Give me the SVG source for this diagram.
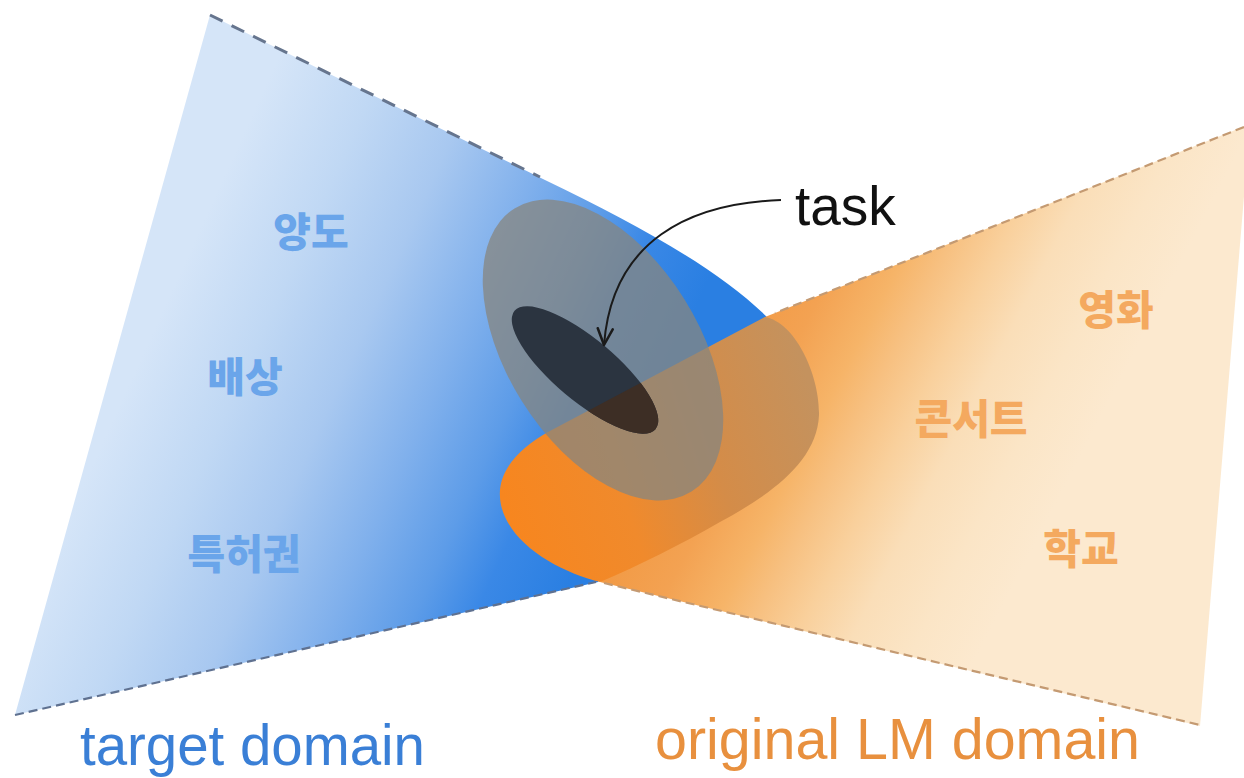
<svg xmlns="http://www.w3.org/2000/svg" width="1244" height="778" viewBox="0 0 1244 778">
  <defs>
    <linearGradient id="gBlue" gradientUnits="userSpaceOnUse" x1="252" y1="115" x2="692" y2="316">
      <stop offset="0" stop-color="#d5e5f8"/>
      <stop offset="0.207" stop-color="#c0d8f4"/>
      <stop offset="0.395" stop-color="#a8c8f0"/>
      <stop offset="0.584" stop-color="#80b0ec"/>
      <stop offset="0.735" stop-color="#5d9ce8"/>
      <stop offset="0.849" stop-color="#3a88e6"/>
      <stop offset="1" stop-color="#2a7fe2"/>
    </linearGradient>
    <linearGradient id="gOrange" gradientUnits="userSpaceOnUse" x1="710" y1="369" x2="1038" y2="539">
      <stop offset="0" stop-color="#f29a45"/>
      <stop offset="0.173" stop-color="#f3a252"/>
      <stop offset="0.324" stop-color="#f6b468"/>
      <stop offset="0.419" stop-color="#f7c080"/>
      <stop offset="0.541" stop-color="#f9d09c"/>
      <stop offset="0.676" stop-color="#fadeb8"/>
      <stop offset="0.838" stop-color="#fbe5c6"/>
      <stop offset="1" stop-color="#fce9cf"/>
    </linearGradient>
    <linearGradient id="gBlob" gradientUnits="userSpaceOnUse" x1="505" y1="505" x2="815" y2="400">
      <stop offset="0" stop-color="#f7861f"/>
      <stop offset="0.35" stop-color="#f08a2c"/>
      <stop offset="0.65" stop-color="#d48c48"/>
      <stop offset="1" stop-color="#c4925e"/>
    </linearGradient>
    <clipPath id="blobClip">
      <path d="M 765,317 C 795,322 820,375 819,415 C 817,462 770,495 720,522 C 680,545 640,565 600,582 C 560,572 510,545 501,505 C 494,472 520,448 548,432 L 765,317 Z"/>
    </clipPath>
    <marker id="arrowHead" markerUnits="userSpaceOnUse" markerWidth="20" markerHeight="20" viewBox="-14 -8 16 16" refX="0" refY="0" orient="auto">
      <path d="M -13,-6 L 0,0 L -13,6" fill="none" stroke="#1a1a1a" stroke-width="2" stroke-linecap="round" stroke-linejoin="round"/>
    </marker>
    <style>
      .ko { font-family: "Noto Sans CJK KR", "Noto Sans", sans-serif; font-weight: 900; font-size: 41px; text-anchor: middle; }
      .koBlue { fill: #6aa5ea; }
      .koOrange { fill: #f4a95f; }
      .en { font-family: "Liberation Sans", Arial, sans-serif; font-size: 57px; }
      .dashBlueTop { fill: none; stroke: #66758e; stroke-width: 3; stroke-dasharray: 14 10; }
      .dashBlue { fill: none; stroke: #5f7190; stroke-width: 2.2; stroke-dasharray: 9 5; }
      .dashOrange { fill: none; stroke: #c49a72; stroke-width: 2.2; stroke-dasharray: 9 5; }
    </style>
  </defs>

  <rect x="0" y="0" width="1244" height="778" fill="#ffffff"/>

  <g id="target-domain">
    <path d="M 210,15 L 545,180 C 640,226 720,270 768,318 L 700,450 L 598,582 L 15,715 Z" fill="url(#gBlue)"/>
    <line class="dashBlueTop" x1="210" y1="15" x2="540" y2="177"/>
    <line class="dashBlue" x1="15" y1="715" x2="596" y2="582"/>
    <text class="ko koBlue" x="311" y="247">양도</text>
    <text class="ko koBlue" x="245" y="392">배상</text>
    <text class="ko koBlue" x="244" y="569">특허권</text>
    <text class="en" x="80" y="765" fill="#3a7fd6" textLength="345" lengthAdjust="spacingAndGlyphs">target domain</text>
  </g>

  <g id="original-lm-domain">
    <path d="M 765,317 L 1250,124 L 1200,726 L 600,582 Z" fill="url(#gOrange)"/>
    <path d="M 765,317 C 795,322 820,375 819,415 C 817,462 770,495 720,522 C 680,545 640,565 600,582 C 560,572 510,545 501,505 C 494,472 520,448 548,432 L 765,317 Z" fill="url(#gBlob)"/>
    <line class="dashOrange" x1="1244" y1="127" x2="775" y2="313"/>
    <line class="dashOrange" x1="604" y1="583" x2="1200" y2="725"/>
    <text class="ko koOrange" x="1116" y="325">영화</text>
    <text class="ko koOrange" x="971" y="434">콘서트</text>
    <text class="ko koOrange" x="1081" y="564">학교</text>
    <text class="en" x="655" y="759" fill="#e8903e" textLength="485" lengthAdjust="spacingAndGlyphs">original LM domain</text>
  </g>

  <g id="task">
    <ellipse cx="603" cy="350" rx="167" ry="96" transform="rotate(58 603 350)" fill="#87857f" fill-opacity="0.75"/>
    <ellipse cx="585" cy="370" rx="92" ry="31" transform="rotate(40 585 370)" fill="#2b3440"/>
    <g clip-path="url(#blobClip)">
      <ellipse cx="585" cy="370" rx="92" ry="31" transform="rotate(40 585 370)" fill="#3d2e25"/>
    </g>
    <text x="795" y="225" font-family="'Liberation Sans', Arial, sans-serif" font-size="55" fill="#111111">task</text>
  </g>

  <g id="connectors">
    <path d="M 781,200 C 690,203 612,240 604,345" fill="none" stroke="#1a1a1a" stroke-width="2" marker-end="url(#arrowHead)"/>
  </g>
</svg>
